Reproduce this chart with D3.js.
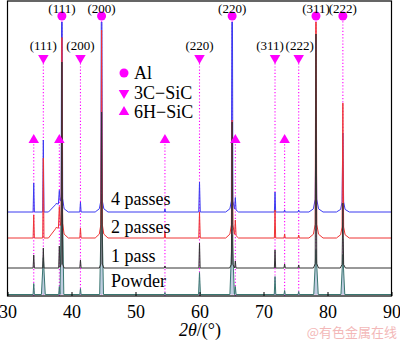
<!DOCTYPE html>
<html>
<head>
<meta charset="utf-8">
<script src="https://cdn.jsdelivr.net/npm/d3@7"></script>
<style>
  html, body { margin: 0; padding: 0; background: #fff; }
  svg { display: block; }
</style>
</head>
<body>
<svg id="chart" width="400" height="341"></svg>
<script>
// ---------- DATA ----------
const seriesNames = ["4 passes", "2 passes", "1 pass", "Powder"];
const seriesOffsets = [84, 58, 28, 1.5];           // vertical stacking offsets (a.u.)
// peaks: [2theta, height above own baseline, half base width]
const peaks4 = [[34.1,29,0.1],[35.6,72,0.1],[37.6,8,1.2],[38.1,14,0.15],[38.5,300,0.12],[38.5,12,0.35],[38.5,5,1.0],
  [41.4,10,0.1],[44.7,300,0.12],[44.7,10,0.35],[44.7,5,1.0],[54.6,3,0.1],[60.0,30,0.12],[65.1,300,0.12],[65.1,10,0.35],[65.1,5,1.0],
  [65.6,12,0.12],[71.8,20,0.1],[73.3,2,0.1],[75.5,2,0.1],[78.2,80,0.12],[78.2,12,0.4],[78.2,5,1.1],[82.4,65,0.12],[82.4,10,0.35],[82.4,4,1.0]];
const peaks2 = [[34.1,23,0.1],[35.6,80,0.1],[37.6,10,1.2],[38.1,22,0.15],[38.5,180,0.12],[38.5,12,0.35],[38.5,6,1.0],
  [41.4,10,0.1],[44.7,190,0.12],[44.7,12,0.35],[44.7,6,1.0],[54.6,6,0.1],[60.0,26,0.12],[65.1,100,0.12],[65.1,12,0.35],[65.1,6,1.0],
  [65.6,15,0.12],[71.8,28,0.1],[73.3,4,0.1],[75.5,3,0.1],[78.2,300,0.12],[78.2,12,0.4],[78.2,6,1.1],[82.4,120,0.12],[82.4,10,0.35],[82.4,5,1.0]];
const peaks1 = [[34.1,13,0.1],[35.6,20,0.1],[38.1,22,0.1],[38.5,200,0.12],[38.5,6,0.35],[41.4,8,0.1],
  [44.7,150,0.12],[44.7,6,0.35],[54.6,2,0.1],[60.0,25,0.1],[65.1,141,0.12],[65.1,5,0.4],[65.6,7,0.1],
  [71.8,18,0.1],[73.3,4,0.1],[75.5,3,0.1],[78.2,228,0.12],[78.2,6,0.4],[82.4,60,0.12],[82.4,5,0.4]];
const peaksP = [[34.1,11,0.1],[35.6,37,0.3],[38.1,8,0.1],[38.5,120,0.3],[41.4,6,0.1],[44.7,100,0.3],
  [54.6,2,0.1],[60.0,22,0.15],[65.1,60,0.35],[65.6,8,0.12],[71.8,18,0.12],[73.3,4,0.1],[75.5,3,0.1],
  [78.2,45,0.35],[82.4,40,0.3]];
const seriesPeaks = [peaks4, peaks2, peaks1, peaksP];

const alPos = [38.5, 44.7, 65.1, 78.2, 82.4];
const alLabels = ["(111)", "(200)", "(220)", "(311)", "(222)"];
const sic3cPos = [35.6, 41.4, 60.0, 71.8, 75.5];
const sic3cLabels = ["(111)", "(200)", "(220)", "(311)", "(222)"];
const sic6hPos = [34.1, 38.1, 54.6, 65.6, 73.3];
const legendLabels = ["Al", "3C\u2212SiC", "6H\u2212SiC"];
const xTicks = [30, 40, 50, 60, 70, 80, 90];

// ---------- LAYOUT ----------
const svg = d3.select("#chart");
const L = 7.5, R = 391.5, T = 1, B = 296;
const x = d3.scaleLinear().domain([30, 90]).range([L, R]);
const y = d3.scaleLinear().domain([0, 295]).range([B, T]);
const MAG = "#ff00ff";
const colors = ["#3b3bf0", "#ee3434", "#333333", "#3a7670"];
const serif = "'Liberation Serif','Times New Roman',serif";

svg.append("defs").append("clipPath").attr("id", "clip")
  .append("rect").attr("x", L).attr("y", 22).attr("width", R - L).attr("height", B - 22);

// dotted reference lines (beneath data)
const gDots = svg.append("g").attr("stroke", MAG).attr("stroke-width", 1.1)
  .attr("stroke-dasharray", "1.2,2");
alPos.forEach(p => gDots.append("line").attr("x1", x(p)).attr("x2", x(p)).attr("y1", 18).attr("y2", B));
sic3cPos.forEach(p => gDots.append("line").attr("x1", x(p)).attr("x2", x(p)).attr("y1", 60).attr("y2", B));
sic6hPos.forEach(p => gDots.append("line").attr("x1", x(p)).attr("x2", x(p)).attr("y1", 141).attr("y2", B));

// build series points from the peak tables
function buildPoints(pk, off) {
  let xs = [30, 90];
  pk.forEach(([p, h, w]) => { xs.push(p - w, p, p + w); });
  xs = Array.from(new Set(xs.map(v => +v.toFixed(4)))).sort((a, b) => a - b);
  return xs.map(t => {
    let s = 0;
    pk.forEach(([p, h, w]) => { const d = Math.abs(t - p); if (d < w) s += h * (1 - d / w); });
    return [t, off + s];
  });
}

const gData = svg.append("g").attr("clip-path", "url(#clip)");
const line = d3.line().x(d => x(d[0])).y(d => y(d[1]));
const drawOrder = [3, 0, 1, 2];
drawOrder.forEach(i => {
  const pts = buildPoints(seriesPeaks[i], seriesOffsets[i]);
  if (i === 3) {
    const area = d3.area().x(d => x(d[0])).y0(y(seriesOffsets[i])).y1(d => y(d[1]));
    gData.append("path").attr("d", area(pts)).attr("fill", "#bfcde0");
  }
  gData.append("path").attr("d", line(pts)).attr("fill", "none")
    .attr("stroke", colors[i]).attr("stroke-width", 1).attr("stroke-linejoin", "round");
});

// markers
const tri = d3.symbol().type(d3.symbolTriangle).size(48);
const gM = svg.append("g").attr("fill", MAG);
alPos.forEach(p => gM.append("circle").attr("cx", x(p)).attr("cy", 16).attr("r", 4.5));
sic3cPos.forEach(p => gM.append("path").attr("d", tri())
  .attr("transform", `translate(${x(p)},58) rotate(180)`));
sic6hPos.forEach(p => gM.append("path").attr("d", tri())
  .attr("transform", `translate(${x(p)},140)`));

// marker labels
const gT = svg.append("g").attr("font-family", serif).attr("font-size", 13)
  .attr("text-anchor", "middle").attr("fill", "#000");
alLabels.forEach((t, i) => gT.append("text").attr("x", x(alPos[i])).attr("y", 12.5).text(t));
const nudge3c = [0, 0, 0, -5, 1];
sic3cLabels.forEach((t, i) => gT.append("text").attr("x", x(sic3cPos[i]) + nudge3c[i]).attr("y", 50).text(t));

// legend
const gL = svg.append("g").attr("font-family", serif).attr("font-size", 18);
const legY = [73, 93, 112];
gL.append("circle").attr("cx", 124).attr("cy", legY[0]).attr("r", 4.5).attr("fill", MAG);
gL.append("path").attr("d", tri()).attr("fill", MAG).attr("transform", `translate(124,${legY[1]}) rotate(180)`);
gL.append("path").attr("d", tri()).attr("fill", MAG).attr("transform", `translate(124,${legY[2]})`);
legendLabels.forEach((t, i) => gL.append("text").attr("x", 134).attr("y", legY[i] + 6).text(t));

// series labels
const labY = [205, 233, 262, 287];
seriesNames.forEach((t, i) => svg.append("text").attr("x", 111).attr("y", labY[i])
  .attr("font-family", serif).attr("font-size", 18).text(t));

// frame
svg.append("rect").attr("x", L).attr("y", T).attr("width", R - L).attr("height", B - T)
  .attr("fill", "none").attr("stroke", "#000").attr("stroke-width", 1.2);

// x axis (inward ticks)
const ax = d3.axisBottom(x).tickValues(xTicks).tickSizeInner(-4).tickSizeOuter(0).tickPadding(9);
const gAx = svg.append("g").attr("transform", `translate(0,${B})`).call(ax);
gAx.select(".domain").remove();
gAx.selectAll("line").attr("stroke", "#000");
gAx.selectAll("text").attr("font-family", serif).attr("font-size", 18).attr("fill", "#000");

// axis title
const tt = svg.append("text").attr("x", 200).attr("y", 336).attr("text-anchor", "middle")
  .attr("font-family", serif).attr("font-size", 18);
tt.append("tspan").attr("font-style", "italic").text("2\u03B8");
tt.append("tspan").text("/(\u00B0)");

// watermark
svg.append("text").attr("x", 397).attr("y", 337).attr("text-anchor", "end")
  .attr("font-family", "'Noto Sans CJK SC',sans-serif").attr("font-size", 13)
  .attr("fill", "#f3b8b8").text("@有色金属在线");
</script>
</body>
</html>
